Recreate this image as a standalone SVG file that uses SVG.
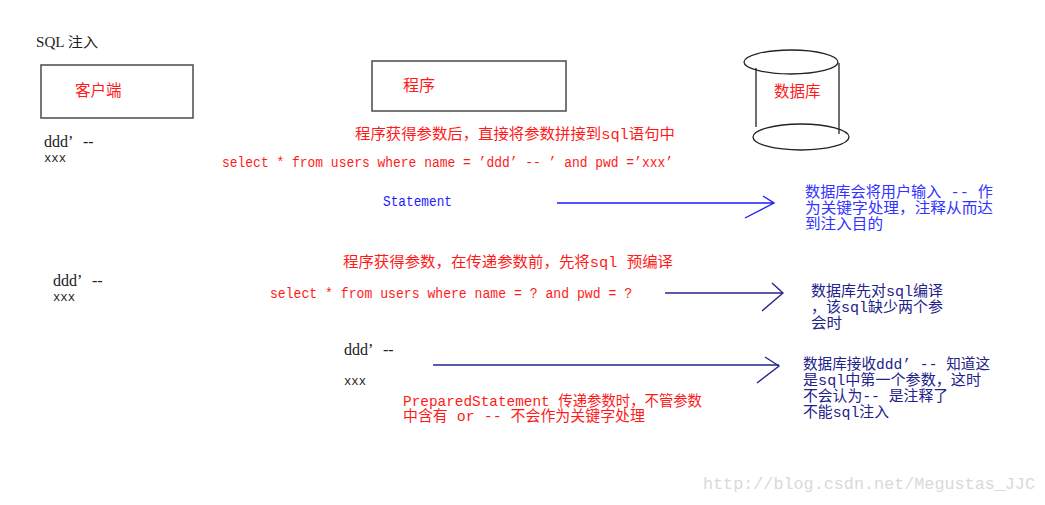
<svg xmlns="http://www.w3.org/2000/svg" width="1045" height="505" viewBox="0 0 1045 505">
<style>
.box{fill:none;stroke:#555;stroke-width:1.6}
.cyl{fill:none;stroke:#222;stroke-width:1.3}
.cjk{font-family:"Liberation Mono","Noto Sans CJK SC",monospace}
.mono{font-family:"Liberation Mono",monospace}
.serif{font-family:"Liberation Serif","Noto Sans CJK SC",serif}
.red{fill:#ff1a1a}
.blue{fill:#3333ff}
.navy{fill:#22228a}
.blk{fill:#222}
</style>
<rect width="1045" height="505" fill="#fff"/>
<text class="serif blk" x="36" y="47" font-size="14" textLength="62" lengthAdjust="spacingAndGlyphs">SQL 注入</text>

<g id="client">
<rect class="box" x="41" y="65" width="152" height="53"/>
<text class="cjk red" x="75" y="96" font-size="15.5">客户端</text>
</g>
<g id="program">
<rect class="box" x="372" y="61" width="194" height="50"/>
<text class="cjk red" x="403" y="91" font-size="16">程序</text>
</g>
<g id="database">
<ellipse class="cyl" cx="791" cy="62" rx="47" ry="12"/>
<line class="cyl" x1="756" y1="68" x2="756" y2="127"/>
<line class="cyl" x1="839" y1="63" x2="839" y2="134"/>
<ellipse class="cyl" cx="801" cy="137" rx="48" ry="13"/>
<text class="cjk red" x="774" y="97" font-size="15.5">数据库</text>
</g>

<g id="connectors" fill="none" stroke-width="1.4">
<g stroke="#1a1aff">
<line x1="557" y1="203" x2="774" y2="203"/>
<polyline points="763,196 774,203 745,218"/>
</g>
<g stroke="#25258c">
<line x1="665" y1="293" x2="783" y2="293"/>
<polyline points="772,283 783,293 762,311"/>
<line x1="433" y1="365" x2="779" y2="365"/>
<polyline points="765,357 779,366 757,383"/>
</g>
</g>

<g id="section1">
<text class="serif blk" x="44" y="147" font-size="16">ddd’<tspan x="83">--</tspan></text>
<text class="mono blk" x="44" y="162" font-size="13" textLength="22" lengthAdjust="spacingAndGlyphs">xxx</text>
<text class="cjk red" x="355" y="139" font-size="15" textLength="320" lengthAdjust="spacingAndGlyphs">程序获得参数后，直接将参数拼接到sql语句中</text>
<text class="mono red" x="222" y="167" font-size="14" textLength="451" lengthAdjust="spacingAndGlyphs">select * from users where name = ’ddd’ -- ’ and pwd =’xxx’</text>
<text class="mono" x="383" y="206" font-size="14" fill="#1a1aff" textLength="69" lengthAdjust="spacingAndGlyphs">Statement</text>
<g class="cjk blue" font-size="15">
<text x="805" y="197" textLength="188" lengthAdjust="spacingAndGlyphs">数据库会将用户输入 -- 作</text>
<text x="805" y="213" textLength="188" lengthAdjust="spacingAndGlyphs">为关键字处理，注释从而达</text>
<text x="805" y="229" textLength="78" lengthAdjust="spacingAndGlyphs">到注入目的</text>
</g>
</g>

<g id="section2">
<text class="serif blk" x="53" y="286" font-size="16">ddd’<tspan x="92">--</tspan></text>
<text class="mono blk" x="53" y="301" font-size="13" textLength="22" lengthAdjust="spacingAndGlyphs">xxx</text>
<text class="cjk red" x="343" y="267" font-size="15" textLength="330" lengthAdjust="spacingAndGlyphs">程序获得参数，在传递参数前，先将sql 预编译</text>
<text class="mono red" x="270" y="298" font-size="14" textLength="362" lengthAdjust="spacingAndGlyphs">select * from users where name = ? and pwd = ?</text>
<g class="cjk navy" font-size="15">
<text x="811" y="296" textLength="132" lengthAdjust="spacingAndGlyphs">数据库先对sql编译</text>
<text x="811" y="312" textLength="132" lengthAdjust="spacingAndGlyphs">，该sql缺少两个参</text>
<text x="811" y="328" textLength="31" lengthAdjust="spacingAndGlyphs">会时</text>
</g>
</g>

<g id="section3">
<text class="serif blk" x="344" y="355" font-size="16">ddd’<tspan x="383">--</tspan></text>
<text class="mono blk" x="344" y="385" font-size="13" textLength="22" lengthAdjust="spacingAndGlyphs">xxx</text>
<text class="cjk red" x="403" y="406" font-size="15" textLength="299" lengthAdjust="spacingAndGlyphs">PreparedStatement 传递参数时，不管参数</text>
<text class="cjk red" x="403" y="421" font-size="15" textLength="242" lengthAdjust="spacingAndGlyphs">中含有 or -- 不会作为关键字处理</text>
<g class="cjk navy" font-size="15">
<text x="803" y="369" textLength="187" lengthAdjust="spacingAndGlyphs">数据库接收ddd’ -- 知道这</text>
<text x="803" y="385" textLength="178" lengthAdjust="spacingAndGlyphs">是sql中第一个参数，这时</text>
<text x="803" y="401" textLength="145" lengthAdjust="spacingAndGlyphs">不会认为-- 是注释了</text>
<text x="803" y="417" textLength="86" lengthAdjust="spacingAndGlyphs">不能sql注入</text>
</g>
</g>

<text class="mono" x="703" y="489" font-size="16.5" fill="#d9d9d9" textLength="332" lengthAdjust="spacingAndGlyphs">http://blog.csdn.net/Megustas_JJC</text>
</svg>
